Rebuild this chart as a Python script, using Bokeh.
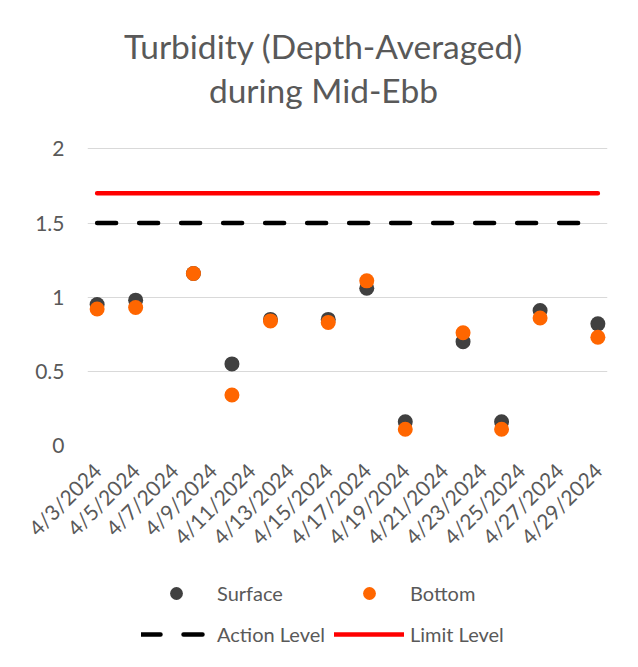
import math
import pandas as pd
from bokeh.plotting import figure
from bokeh.layouts import column
from bokeh.models import (Range1d, FixedTicker, Legend, LegendItem, Label)
from bokeh.embed import file_html
from bokeh.resources import INLINE

# ---------------- data ----------------
dates = ["4/3/2024", "4/5/2024", "4/8/2024", "4/10/2024", "4/12/2024", "4/15/2024",
         "4/17/2024", "4/19/2024", "4/22/2024", "4/24/2024", "4/26/2024", "4/29/2024"]
surface = [0.95, 0.98, 1.16, 0.55, 0.85, 0.85, 1.06, 0.16, 0.70, 0.16, 0.91, 0.82]
bottom = [0.92, 0.93, 1.16, 0.34, 0.84, 0.83, 1.11, 0.11, 0.76, 0.11, 0.86, 0.73]
action_level = [1.5, 1.5, 1.5, 1.5, 1.5, 1.5, 1.5, 1.5, 1.5, 1.5, 1.5, 1.5]
limit_level = [1.7, 1.7, 1.7, 1.7, 1.7, 1.7, 1.7, 1.7, 1.7, 1.7, 1.7, 1.7]
tick_labels = ["4/3/2024", "4/5/2024", "4/7/2024", "4/9/2024", "4/11/2024", "4/13/2024",
               "4/15/2024", "4/17/2024", "4/19/2024", "4/21/2024", "4/23/2024",
               "4/25/2024", "4/27/2024", "4/29/2024"]
y_ticks = [0, 0.5, 1, 1.5, 2]
title_lines = ["Turbidity (Depth-Averaged)", "during Mid-Ebb"]
series_names = ["Surface", "Bottom", "Action Level", "Limit Level"]

# ---------------- helpers ----------------
d0 = pd.to_datetime(dates[0], format="%m/%d/%Y")
def day_offset(s):
    return float((pd.to_datetime(s, format="%m/%d/%Y") - d0).days)

x = [day_offset(d) for d in dates]
tick_x = [day_offset(t) for t in tick_labels]

FONT = "Lato"
TXT = "#595959"
C_SURF = "#404040"
C_BOT = "#FF6600"
C_LIM = "#FF0000"

# ---------------- main chart ----------------
p = figure(width=630, height=569, output_backend="svg", toolbar_location=None,
           title_location=None,
           x_range=Range1d(tick_x[0] - 0.5, tick_x[-1] + 0.5),
           y_range=Range1d(0, 3.0),
           min_border_left=87, min_border_right=23, min_border_top=0,
           min_border_bottom=124)
p.outline_line_color = None
p.background_fill_color = "white"
p.border_fill_color = "white"

p.xaxis.ticker = FixedTicker(ticks=tick_x)
p.xaxis.major_label_overrides = {tx: lab for tx, lab in zip(tick_x, tick_labels)}
p.xaxis.major_label_orientation = math.pi / 4
p.yaxis.ticker = FixedTicker(ticks=y_ticks)
for ax in (p.xaxis[0], p.yaxis[0]):
    ax.axis_line_color = None
    ax.major_tick_line_color = None
    ax.minor_tick_line_color = None
    ax.major_tick_out = 0
    ax.major_tick_in = 0
    ax.minor_tick_out = 0
    ax.major_label_text_font = FONT
    ax.major_label_text_font_size = "21px"
    ax.major_label_text_color = TXT
p.yaxis.major_label_standoff = 23
p.xaxis.major_label_standoff = 21

p.xgrid.grid_line_color = None
p.ygrid.grid_line_color = "#D9D9D9"
p.ygrid.grid_line_width = 1
p.ygrid.ticker = FixedTicker(ticks=y_ticks)

line_act = dict(line_color="black", line_width=4.5, line_dash="19 23", line_cap="round")
line_lim = dict(line_color=C_LIM, line_width=4.5, line_cap="round")
mk_s = dict(marker="circle", fill_color=C_SURF, line_color=C_SURF, line_width=0)
mk_b = dict(marker="circle", fill_color=C_BOT, line_color=C_BOT, line_width=0)

p.line(x, action_level, **line_act)
p.line(x, limit_level, **line_lim)
p.scatter(x, surface, size=15, **mk_s)
p.scatter(x, bottom, size=15, **mk_b)

for txt, yy in zip(title_lines, [400, 356]):
    p.add_layout(Label(x=236, y=yy, x_units="screen", y_units="screen", text=txt,
                       text_align="center", text_baseline="alphabetic",
                       text_font=FONT, text_font_size="33.5px", text_color=TXT))

# ---------------- legend strip ----------------
# same series drawn again, kept outside this strip's view, so the legend has glyphs
q = figure(width=630, height=90, output_backend="svg", toolbar_location=None,
           title_location=None, x_axis_location=None, y_axis_location=None,
           x_range=Range1d(tick_x[0] - 0.5, tick_x[-1] + 0.5), y_range=Range1d(10, 11),
           min_border_left=87, min_border_right=23, min_border_top=0,
           min_border_bottom=0)
q.outline_line_color = None
q.grid.visible = False
q.background_fill_color = "white"
q.border_fill_color = "white"

g_s = q.scatter(x, surface, size=15, **mk_s)
g_b = q.scatter(x, bottom, size=15, **mk_b)
g_a = q.line(x, action_level, **line_act)
g_l = q.line(x, limit_level, **line_lim)

def make_legend(items, loc):
    return Legend(items=items, orientation="horizontal", location=loc,
                  glyph_width=70, glyph_height=32, label_height=32, label_width=111,
                  label_standoff=6, spacing=6, padding=0, margin=0,
                  border_line_color=None, background_fill_alpha=0,
                  label_text_font=FONT, label_text_font_size="20px",
                  label_text_color=TXT)

q.add_layout(make_legend([LegendItem(label=series_names[0], renderers=[g_s], index=0),
                          LegendItem(label=series_names[1], renderers=[g_b], index=0)],
                         (54, 50)))
q.add_layout(make_legend([LegendItem(label=series_names[2], renderers=[g_a]),
                          LegendItem(label=series_names[3], renderers=[g_l])], (54, 9)))

layout = column(p, q, spacing=0)
open("out.html", "w").write(file_html(layout, INLINE))
